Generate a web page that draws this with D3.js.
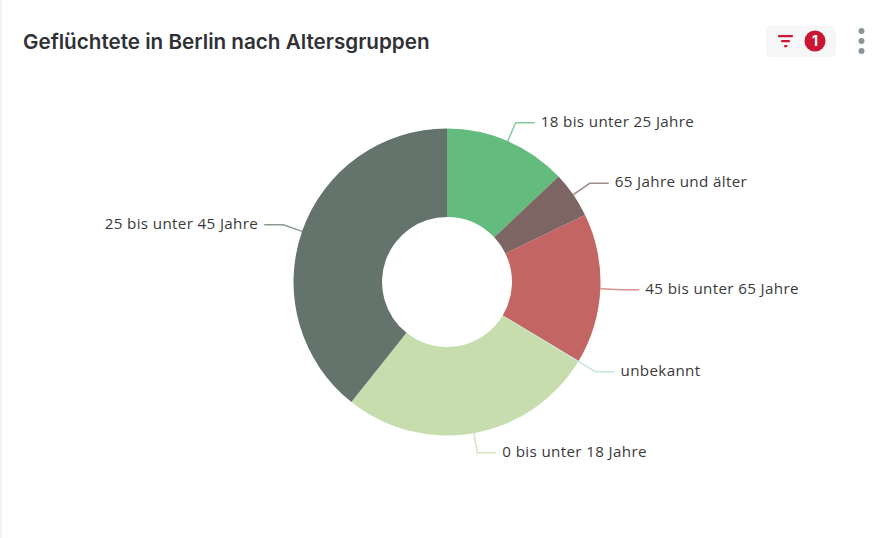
<!DOCTYPE html>
<html><head><meta charset="utf-8">
<script src="https://cdnjs.cloudflare.com/ajax/libs/d3/7.8.5/d3.min.js"></script>
<style>html,body{margin:0;padding:0;background:#fff}svg{display:block}</style>
</head><body><svg id="c" width="889" height="538"></svg>
<script>
const title = "Geflüchtete in Berlin nach Altersgruppen";
const categories = ["18 bis unter 25 Jahre","65 Jahre und älter","45 bis unter 65 Jahre","unbekannt","0 bis unter 18 Jahre","25 bis unter 45 Jahre"];
const values = [12.95,4.85,15.8,0.1,27.0,39.3];
const colors = ["#63bb7d","#7d6564","#c26563","#b9e5da","#c8ddae","#64736b"];
const lineColors = ["#85cb9a","#a08c8b","#d98f8d","#c2e8de","#d3e4bf","#8c9791"];
const cx=447, cy=282, R=153.5, r0=65, len1=20, len2=19, gap=6;
const svg=d3.select("#c");
svg.append("rect").attr("x",0).attr("y",0).attr("width",1.5).attr("height",538).attr("fill","#f0f0f0");
svg.append("text").attr("x",23).attr("y",49).text(title)
  .style("font","600 20.65px Inter").attr("fill","#2f3136");
// filter badge
const tb=svg.append("g");
tb.append("rect").attr("x",766).attr("y",26).attr("width",70).attr("height",31).attr("rx",5).attr("fill","#f6f6f6");
const red="#cc1533";
[[778,15,2.2],[781,9,2.2],[784,3.5,2.2]].forEach((b,i)=>tb.append("rect").attr("x",b[0]).attr("y",35+i*5).attr("width",b[1]).attr("height",b[2]).attr("rx",1).attr("fill",red));
tb.append("circle").attr("cx",815).attr("cy",41).attr("r",10.5).attr("fill",red);
tb.append("text").attr("x",815).attr("y",46).attr("text-anchor","middle").text("1").style("font","700 14px Inter").attr("fill","#fff");
[31,41,51].forEach(y=>tb.append("circle").attr("cx",861.5).attr("cy",y).attr("r",3).attr("fill","#8a9699"));
// donut
const pie=d3.pie().sort(null).value(d=>d.v);
const data=pie(categories.map((c,i)=>({c,v:values[i],i})));
const arc=d3.arc().innerRadius(r0).outerRadius(R);
const g=svg.append("g").attr("transform",`translate(${cx},${cy})`);
g.selectAll("path.s").data(data).join("path").attr("class","s").attr("d",arc)
  .attr("fill",d=>colors[d.data.i]);
data.forEach(d=>{
  const a=(d.startAngle+d.endAngle)/2, sx=Math.sin(a), sy=-Math.cos(a);
  const x1=sx*R,y1=sy*R,x2=sx*(R+len1),y2=sy*(R+len1),dir=sx>=0?1:-1,x3=x2+dir*len2;
  g.append("path").attr("d",d3.line()([[x1,y1],[x2,y2],[x3,y2]])).attr("fill","none")
    .attr("stroke",lineColors[d.data.i]).attr("stroke-width",1.5);
  g.append("text").attr("x",x3+dir*gap).attr("y",y2+4).attr("text-anchor",dir>0?"start":"end")
    .text(d.data.c).style("font","15.2px 'Open Sans'").style("letter-spacing","0.35px").attr("fill","#3a3a3a");
});
</script></body></html>
